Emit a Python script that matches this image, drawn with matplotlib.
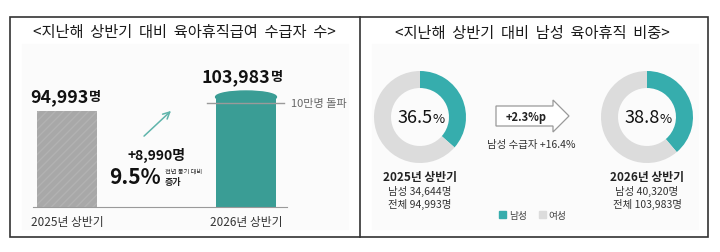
import numpy as np
import matplotlib.pyplot as plt
from matplotlib.patches import Rectangle, Ellipse, Polygon, Patch

plt.rcParams['font.family'] = ['Noto Sans CJK KR', 'DejaVu Sans']

# --- data ---
periods = ['2025년 상반기', '2026년 상반기']
recipients = [94993, 103983]
male_recipients = [34644, 40320]
male_share = [36.5, 38.8]
milestone = 100000

TEAL_BAR = '#3a9d95'
TEAL = '#36adad'
GRAY_BAR = '#a8a8a8'
GRAY_RING = '#dcdcdc'
W, H = 720, 253

fig = plt.figure(figsize=(W / 100, H / 100), dpi=100)

# background axes in pixel coordinates (for frame and free text)
bg = fig.add_axes([0, 0, 1, 1])
bg.set_xlim(0, W)
bg.set_ylim(H, 0)
bg.axis('off')

bg.add_patch(Rectangle((22, 45), 326, 185, color='#fbfbfb', zorder=0))
bg.add_patch(Rectangle((372, 45), 326, 185, color='#fbfbfb', zorder=0))
bg.add_patch(Rectangle((10, 18), 698, 220, fill=False, ec='#333333', lw=1.2))
bg.plot([360, 360], [18, 238], color='#333333', lw=1.2)

bg.text(184, 32, '<지난해  상반기  대비  육아휴직급여  수급자  수>', ha='center', va='center',
        fontsize=11, fontweight='medium', color='#1a1a1a')
bg.text(532, 33, '<지난해  상반기  대비  남성  육아휴직  비중>', ha='center', va='center',
        fontsize=11, fontweight='medium', color='#1a1a1a')


def px_rect(x0, y0, w, h):
    return [x0 / W, 1 - (y0 + h) / H, w / W, h / H]


# --- left: bar chart ---
ax = fig.add_axes(px_rect(33, 50, 254, 158))
ax.set_xlim(-0.19, 1.229)
ax.set_ylim(33347, 134804)
bars = ax.bar([0, 1], recipients, width=0.34, color=[GRAY_BAR, TEAL_BAR], zorder=2)
bars[0].set_hatch('////')
bars[0].set_edgecolor('#b2b2b2')
bars[0].set_linewidth(0)
# rounded top on the 2026 bar
ax.add_patch(Ellipse((1, recipients[1]), 0.34, 7700, color=TEAL_BAR, zorder=2))
for s in ['top', 'left', 'right']:
    ax.spines[s].set_visible(False)
ax.spines['bottom'].set_color('#9a9a9a')
ax.spines['bottom'].set_linewidth(0.8)
ax.set_xticks([])
ax.set_yticks([])
ax.patch.set_alpha(0)

ax.plot([0.78, 1.21], [milestone, milestone], color='#9a9a9a', lw=1, zorder=3, clip_on=False)
ax.text(1.25, milestone, '10만명 돌파', ha='left', va='center', fontsize=8, color='#666666',
        clip_on=False)

label_dx = [21, 24]
label_dy = [15, 21]
for i, v in enumerate(recipients):
    ax.annotate(f'{v:,}', (i, v), xytext=(label_dx[i], label_dy[i]), textcoords='offset pixels',
                ha='right', va='center', fontsize=12.8, fontweight='bold', color='#111111')
    ax.annotate('명', (i, v), xytext=(label_dx[i] + 1, label_dy[i]), textcoords='offset pixels',
                ha='left', va='center', fontsize=9.5, fontweight='bold', color='#111111')
    ax.text(i, -0.09, periods[i], transform=ax.get_xaxis_transform(), ha='center', va='center',
            fontsize=8.5, color='#333333')

# growth annotation
bg.annotate('', xy=(173, 110), xytext=(142, 139),
            arrowprops=dict(arrowstyle='->', color='#5fb4ab', lw=1.1, mutation_scale=12))
diff = recipients[1] - recipients[0]
pct = diff / recipients[0] * 100
bg.text(156, 155, f'+{diff:,}명', ha='center', va='center', fontsize=10, fontweight='bold',
        color='#111111')
bg.text(161, 178, f'{pct:.1f}%', ha='right', va='center', fontsize=15, fontweight='bold',
        color='#111111')
bg.text(165, 172, '전년 동기 대비', ha='left', va='center', fontsize=4.5, color='#222222')
bg.text(165, 182, '증가', ha='left', va='center', fontsize=6.5, fontweight='bold', color='#222222')

# --- right: donut charts ---
centers = [420, 647]
for cx, share, male, total, period in zip(centers, male_share, male_recipients, recipients, periods):
    dax = fig.add_axes(px_rect(cx - 46, 118 - 46, 92, 92))
    dax.pie([share, 100 - share], colors=[TEAL, GRAY_RING], startangle=90, counterclock=False,
            wedgeprops=dict(width=0.37, linewidth=0))
    dax.set_xlim(-1, 1)
    dax.set_ylim(-1, 1)
    dax.set_aspect('equal')
    dax.text(0.27, 0, f'{share}', ha='right', va='center', fontsize=13, fontweight='medium',
             color='#111111')
    dax.text(0.28, -0.03, '%', ha='left', va='center', fontsize=9.5, fontweight='medium',
             color='#111111')
    bg.text(cx, 178, period, ha='center', va='center', fontsize=8.5, fontweight='bold',
            color='#222222')
    bg.text(cx, 191, f'남성 {male:,}명', ha='center', va='center', fontsize=7.5, color='#333333')
    bg.text(cx, 204, f'전체 {total:,}명', ha='center', va='center', fontsize=7.5, color='#333333')

# block arrow between donuts
bg.add_patch(Polygon([(496, 107), (553, 107), (553, 101), (569, 117), (553, 133), (553, 127),
                      (496, 127)], closed=True, fc='white', ec='#999999', lw=0.9))
bg.text(526, 117, f'+{male_share[1] - male_share[0]:.1f}%p', ha='center', va='center',
        fontsize=8, fontweight='bold', color='#222222')
male_growth = (male_recipients[1] - male_recipients[0]) / male_recipients[0] * 100
bg.text(531, 145, f'남성 수급자 +{male_growth:.1f}%', ha='center', va='center', fontsize=7.5,
        color='#333333')

fig.legend(handles=[Patch(color=TEAL, label='남성'), Patch(color=GRAY_RING, label='여성')],
           loc='center', bbox_to_anchor=(533 / W, 1 - 216 / H), ncol=2, frameon=False,
           fontsize=7, handlelength=0.7, handleheight=0.7, handletextpad=0.3, columnspacing=1.2,
           labelcolor='#444444')

fig.savefig('out.png', dpi=100)
